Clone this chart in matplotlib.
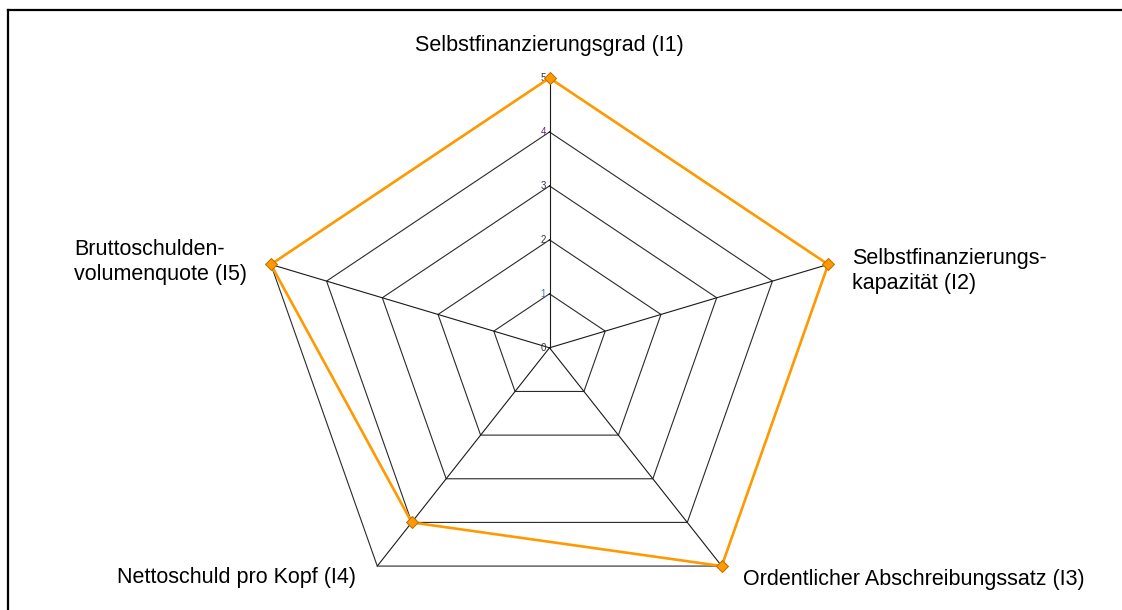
import numpy as np
import matplotlib.pyplot as plt
from matplotlib.lines import Line2D

plt.rcParams['font.family'] = ['Liberation Sans', 'DejaVu Sans']

# data
labels = ["Selbstfinanzierungsgrad (I1)", "Selbstfinanzierungs-\nkapazität (I2)",
          "Ordentlicher Abschreibungssatz (I3)", "Nettoschuld pro Kopf (I4)",
          "Bruttoschulden-\nvolumenquote (I5)"]
values = [5, 5, 5, 4, 5]
ticks = [0, 1, 2, 3, 4, 5]
tick_colors = ["#333333", "#4a6fb5", "#333333", "#333355", "#5a2a6a", "#333333"]

W, H = 1122, 610
cx, cy = 549.5, 347.8      # centre of the web in pixels
rx, ry = 293.0, 269.8      # outer radius (horizontal / vertical)
rmax = max(ticks)

fig = plt.figure(figsize=(W / 100, H / 100), dpi=100)
ax = fig.add_axes([0, 0, 1, 1])
# map data so that value 5 on an axis reaches the outer ring
ax.set_xlim(-cx / rx * rmax, (W - cx) / rx * rmax)
ax.set_ylim(-(H - cy) / ry * rmax, cy / ry * rmax)
ax.axis('off')

n = len(values)
ang = np.pi / 2 - np.arange(n) * 2 * np.pi / n
ca, sa = np.cos(ang), np.sin(ang)

# rings
for t in ticks[1:]:
    xs = np.append(t * ca, t * ca[0])
    ys = np.append(t * sa, t * sa[0])
    ax.plot(xs, ys, color="#2a2a2a", lw=0.8, zorder=1)

# spokes
for i in range(n):
    ax.plot([0, rmax * ca[i]], [0, rmax * sa[i]], color="#1a1a1a", lw=0.8, zorder=1)

# tick labels along first axis
for t, c in zip(ticks, tick_colors):
    ax.text(-0.06, t, str(t), ha='right', va='center', fontsize=7, color=c, zorder=3)

# data series
v = np.array(values, dtype=float)
xs = np.append(v * ca, v[0] * ca[0])
ys = np.append(v * sa, v[0] * sa[0])
ax.plot(xs, ys, color="#FF9900", lw=1.9, zorder=4)
ax.plot(v * ca, v * sa, ls='none', marker='D', ms=6, mfc="#FF9900", mec="#B86E00",
        mew=0.7, zorder=5)

# axis labels
fs = 15.5
ax.text(0, rmax * 1.122, labels[0], ha='center', va='center', fontsize=fs)
ax.text(rmax * ca[1] + 0.41, rmax * sa[1] - 0.13, labels[1], ha='left', va='center',
        fontsize=fs, linespacing=1.25)
ax.text(rmax * ca[2] + 0.36, rmax * sa[2] - 0.24, labels[2], ha='left', va='center', fontsize=fs)
ax.text(rmax * ca[3] - 0.36, rmax * sa[3] - 0.22, labels[3], ha='right', va='center', fontsize=fs)
ax.text(rmax * ca[4] - 3.36, rmax * sa[4] + 0.04, labels[4], ha='left', va='center',
        fontsize=fs, linespacing=1.25)

# outer frame (left and top edges visible)
fig.add_artist(Line2D([8 / W, 8 / W], [0, 1 - 10 / H], color='black', lw=1.6,
                      transform=fig.transFigure))
fig.add_artist(Line2D([8 / W, 1], [1 - 10 / H, 1 - 10 / H], color='black', lw=1.6,
                      transform=fig.transFigure))

fig.savefig("out.png", dpi=100)
